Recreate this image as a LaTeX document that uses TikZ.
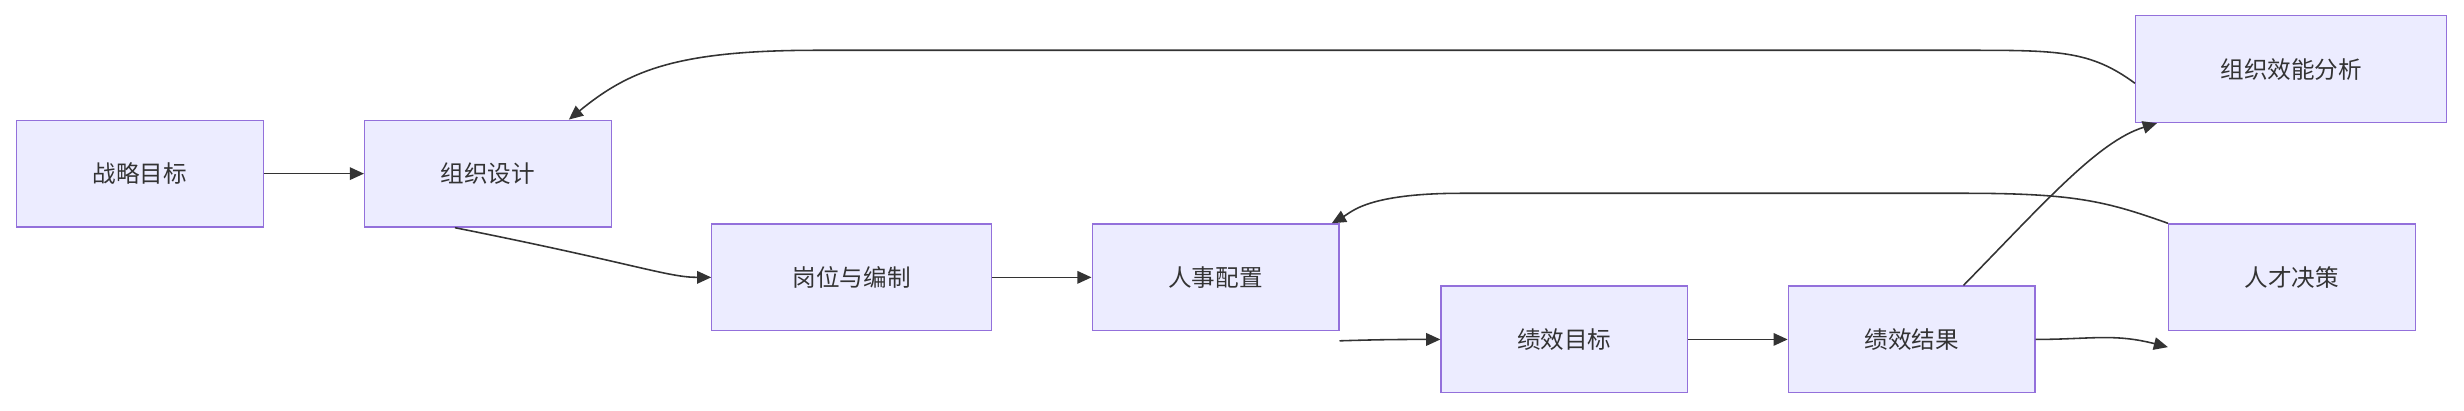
\documentclass[tikz,border=0pt]{standalone}
\usepackage{fontspec}
\setmainfont{Noto Sans CJK SC}
\usetikzlibrary{arrows.meta}
\definecolor{nfill}{HTML}{ECECFF}
\definecolor{nline}{HTML}{9370DB}
\definecolor{ecol}{HTML}{333333}
\begin{document}
\begin{tikzpicture}[x=1pt,y=-1pt,
  box/.style={draw=nline,fill=nfill,line width=0.8pt,minimum height=68pt,inner sep=0pt,font=\fontsize{15}{18}\selectfont,text=ecol},
  e/.style={draw=ecol,line width=1pt,-{Triangle[length=9pt,width=8pt]}}]
\useasboundingbox (0,0) rectangle (1568,261);
\node[box,minimum width=157pt] (a) at (89,110.5) {战略目标};
\node[box,minimum width=157pt] (b) at (310.5,110.5) {组织设计};
\node[box,minimum width=178pt] (c) at (542,176.5) {岗位与编制};
\node[box,minimum width=157pt] (d) at (773.5,176.5) {人事配置};
\node[box,minimum width=157pt] (f) at (995.5,216) {绩效目标};
\node[box,minimum width=157pt] (g) at (1216.5,216) {绩效结果};
\node[box,minimum width=198pt] (h) at (1458,44) {组织效能分析};
\node[box,minimum width=157pt] (i) at (1458.5,176.5) {人才决策};
\draw[e] (a) -- (b);
\draw[e] ([xshift=-21pt]b.south) .. controls (405,168) and (425,176.5) .. (c.west);
\draw[e] (c) -- (d);
\draw[e] ([yshift=-6pt]d.south east) .. controls (880,216) and (895,216) .. (f.west);
\draw[e] (f) -- (g);
\draw[e] (g.east) .. controls (1330,216) and (1345,212) .. ([yshift=-10pt]i.south west);
\draw[e] ([xshift=33pt]g.north) .. controls (1300,130) and (1335,90) .. ([xshift=14pt]h.south west);
\draw[e] ([yshift=-9pt]h.west) .. controls (1330,32) and (1310,32) .. (1250,32) -- (520,32) .. controls (430,32) and (400,45) .. ([xshift=51.5pt]b.north);
\draw[e] (i.north west) .. controls (1340,128) and (1320,123) .. (1250,123) -- (930,123) .. controls (870,123) and (860,135) .. ([xshift=74pt]d.north);
\end{tikzpicture}
\end{document}
